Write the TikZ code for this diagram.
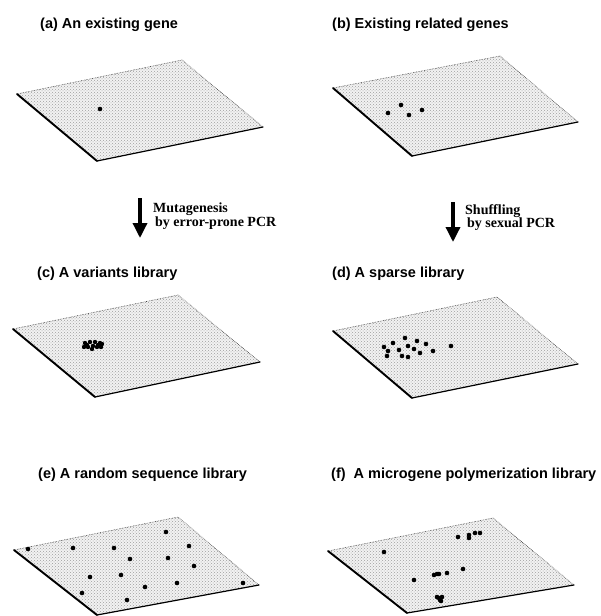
\documentclass[tikz,border=0pt]{standalone}
\usepackage{fontspec}
\setmainfont{Liberation Serif}
\newfontfamily\headfont{Liberation Sans}
\usetikzlibrary{arrows.meta,patterns}

% a sequence-space plane seen in perspective: corners left, top, right, bottom
\newcommand{\seqplane}[4]{%
  \fill[planefill] #1 -- #2 -- #3 -- #4 -- cycle;
  \fill[planegrain] #1 -- #2 -- #3 -- #4 -- cycle;
  \draw[planeback] #1 -- #2 -- #3;
  \draw[planeleft] #1 -- #4;
  \draw[planefront] #4 -- #3;
}

\begin{document}
\begin{tikzpicture}[x=1pt,y=-1pt,
  planefill/.style={fill=black!5},
  planegrain/.style={pattern=crosshatch dots, pattern color=black!38},
  planeback/.style={draw=black!75, line width=0.6pt, densely dotted},
  planeleft/.style={draw=black, line width=1.9pt, line cap=round},
  planefront/.style={draw=black, line width=1.2pt, line cap=round},
  gene/.style={fill=black},
  paneltitle/.style={anchor=base west, inner sep=0pt,
    font=\headfont\bfseries\fontsize{14.5}{16}\selectfont},
  steplabel/.style={anchor=north west, inner sep=0pt, align=left,
    font=\bfseries\fontsize{14}{11.5}\selectfont},
  steparrow/.style={line width=3.4pt, -{Triangle[width=14pt,length=15pt]}}
]
\useasboundingbox (0,0) rectangle (600,616);
\fill[white] (0,0) rectangle (600,616);

% ---------- (a) ----------
\node[paneltitle] (ta) at (40,28.5) {(a) An existing gene};
\seqplane{(17,94)}{(182,60)}{(263,127)}{(97,161)}
\fill[gene] (100,109) circle (2.3);

% ---------- (b) ----------
\node[paneltitle] (tb) at (332,28.5) {(b) Existing related genes};
\seqplane{(333,88)}{(500,56)}{(578,122)}{(412,156)}
\foreach \p in {(388,113),(401,105),(409,115),(422,110)}
  \fill[gene] \p circle (2.3);

% ---------- arrows between rows ----------
\coordinate (m1) at (140,198);
\coordinate (m2) at (140,238);
\draw[steparrow] (m1) -- (m2);
\node[steplabel] (lm) at (153,203) {Mutagenesis\\\hspace{2pt}by error-prone PCR};

\coordinate (s1) at (453,202);
\coordinate (s2) at (453,242);
\draw[steparrow] (s1) -- (s2);
\node[steplabel] (ls) at (465,204) {Shuffling\\\hspace{2pt}by sexual PCR};

% ---------- (c) ----------
\node[paneltitle] (tc) at (37,277.5) {(c) A variants library};
\seqplane{(13,329)}{(178,295)}{(260,362)}{(95,397)}
\foreach \p in {(85,343),(88,347),(90,342),(93,346),(95,342),(97,347),
                (100,343),(101,347),(87,345),(98,345),(92,349),(84,347),(102,344)}
  \fill[gene] \p circle (2.2);

% ---------- (d) ----------
\node[paneltitle] (td) at (332,277.5) {(d) A sparse library};
\seqplane{(333,331)}{(497,297)}{(578,364)}{(412,398)}
\foreach \p in {(405,338),(417,341),(426,344),(393,343),(408,346),(384,347),
                (399,350),(414,349),(420,353),(433,351),(451,346),(388,351),
                (387,356),(402,356),(408,357)}
  \fill[gene] \p circle (2.3);

% ---------- (e) ----------
\node[paneltitle] (te) at (38,478) {(e) A random sequence library};
\seqplane{(14,550)}{(178,517)}{(259,585)}{(97,615)}
\foreach \p in {(28,549),(73,548),(114,548),(166,532),(189,546),(130,559),
                (168,558),(194,566),(90,577),(121,575),(145,587),(177,583),
                (243,583),(82,593),(127,600)}
  \fill[gene] \p circle (2.3);

% ---------- (f) ----------
\node[paneltitle] (tf) at (331,478) {(f)\ \ A microgene polymerization library};
\seqplane{(328,551)}{(493,518)}{(574,585)}{(407,613)}
\foreach \p in {(458,537),(469,535),(469,538),(475,533),(480,533),(384,552),
                (414,580),(434,575),(437,574),(439,574),(447,573),(463,569),
                (437,597),(441,601),(439,598),(442,597),(440,600)}
  \fill[gene] \p circle (2.3);
\end{tikzpicture}
\end{document}
